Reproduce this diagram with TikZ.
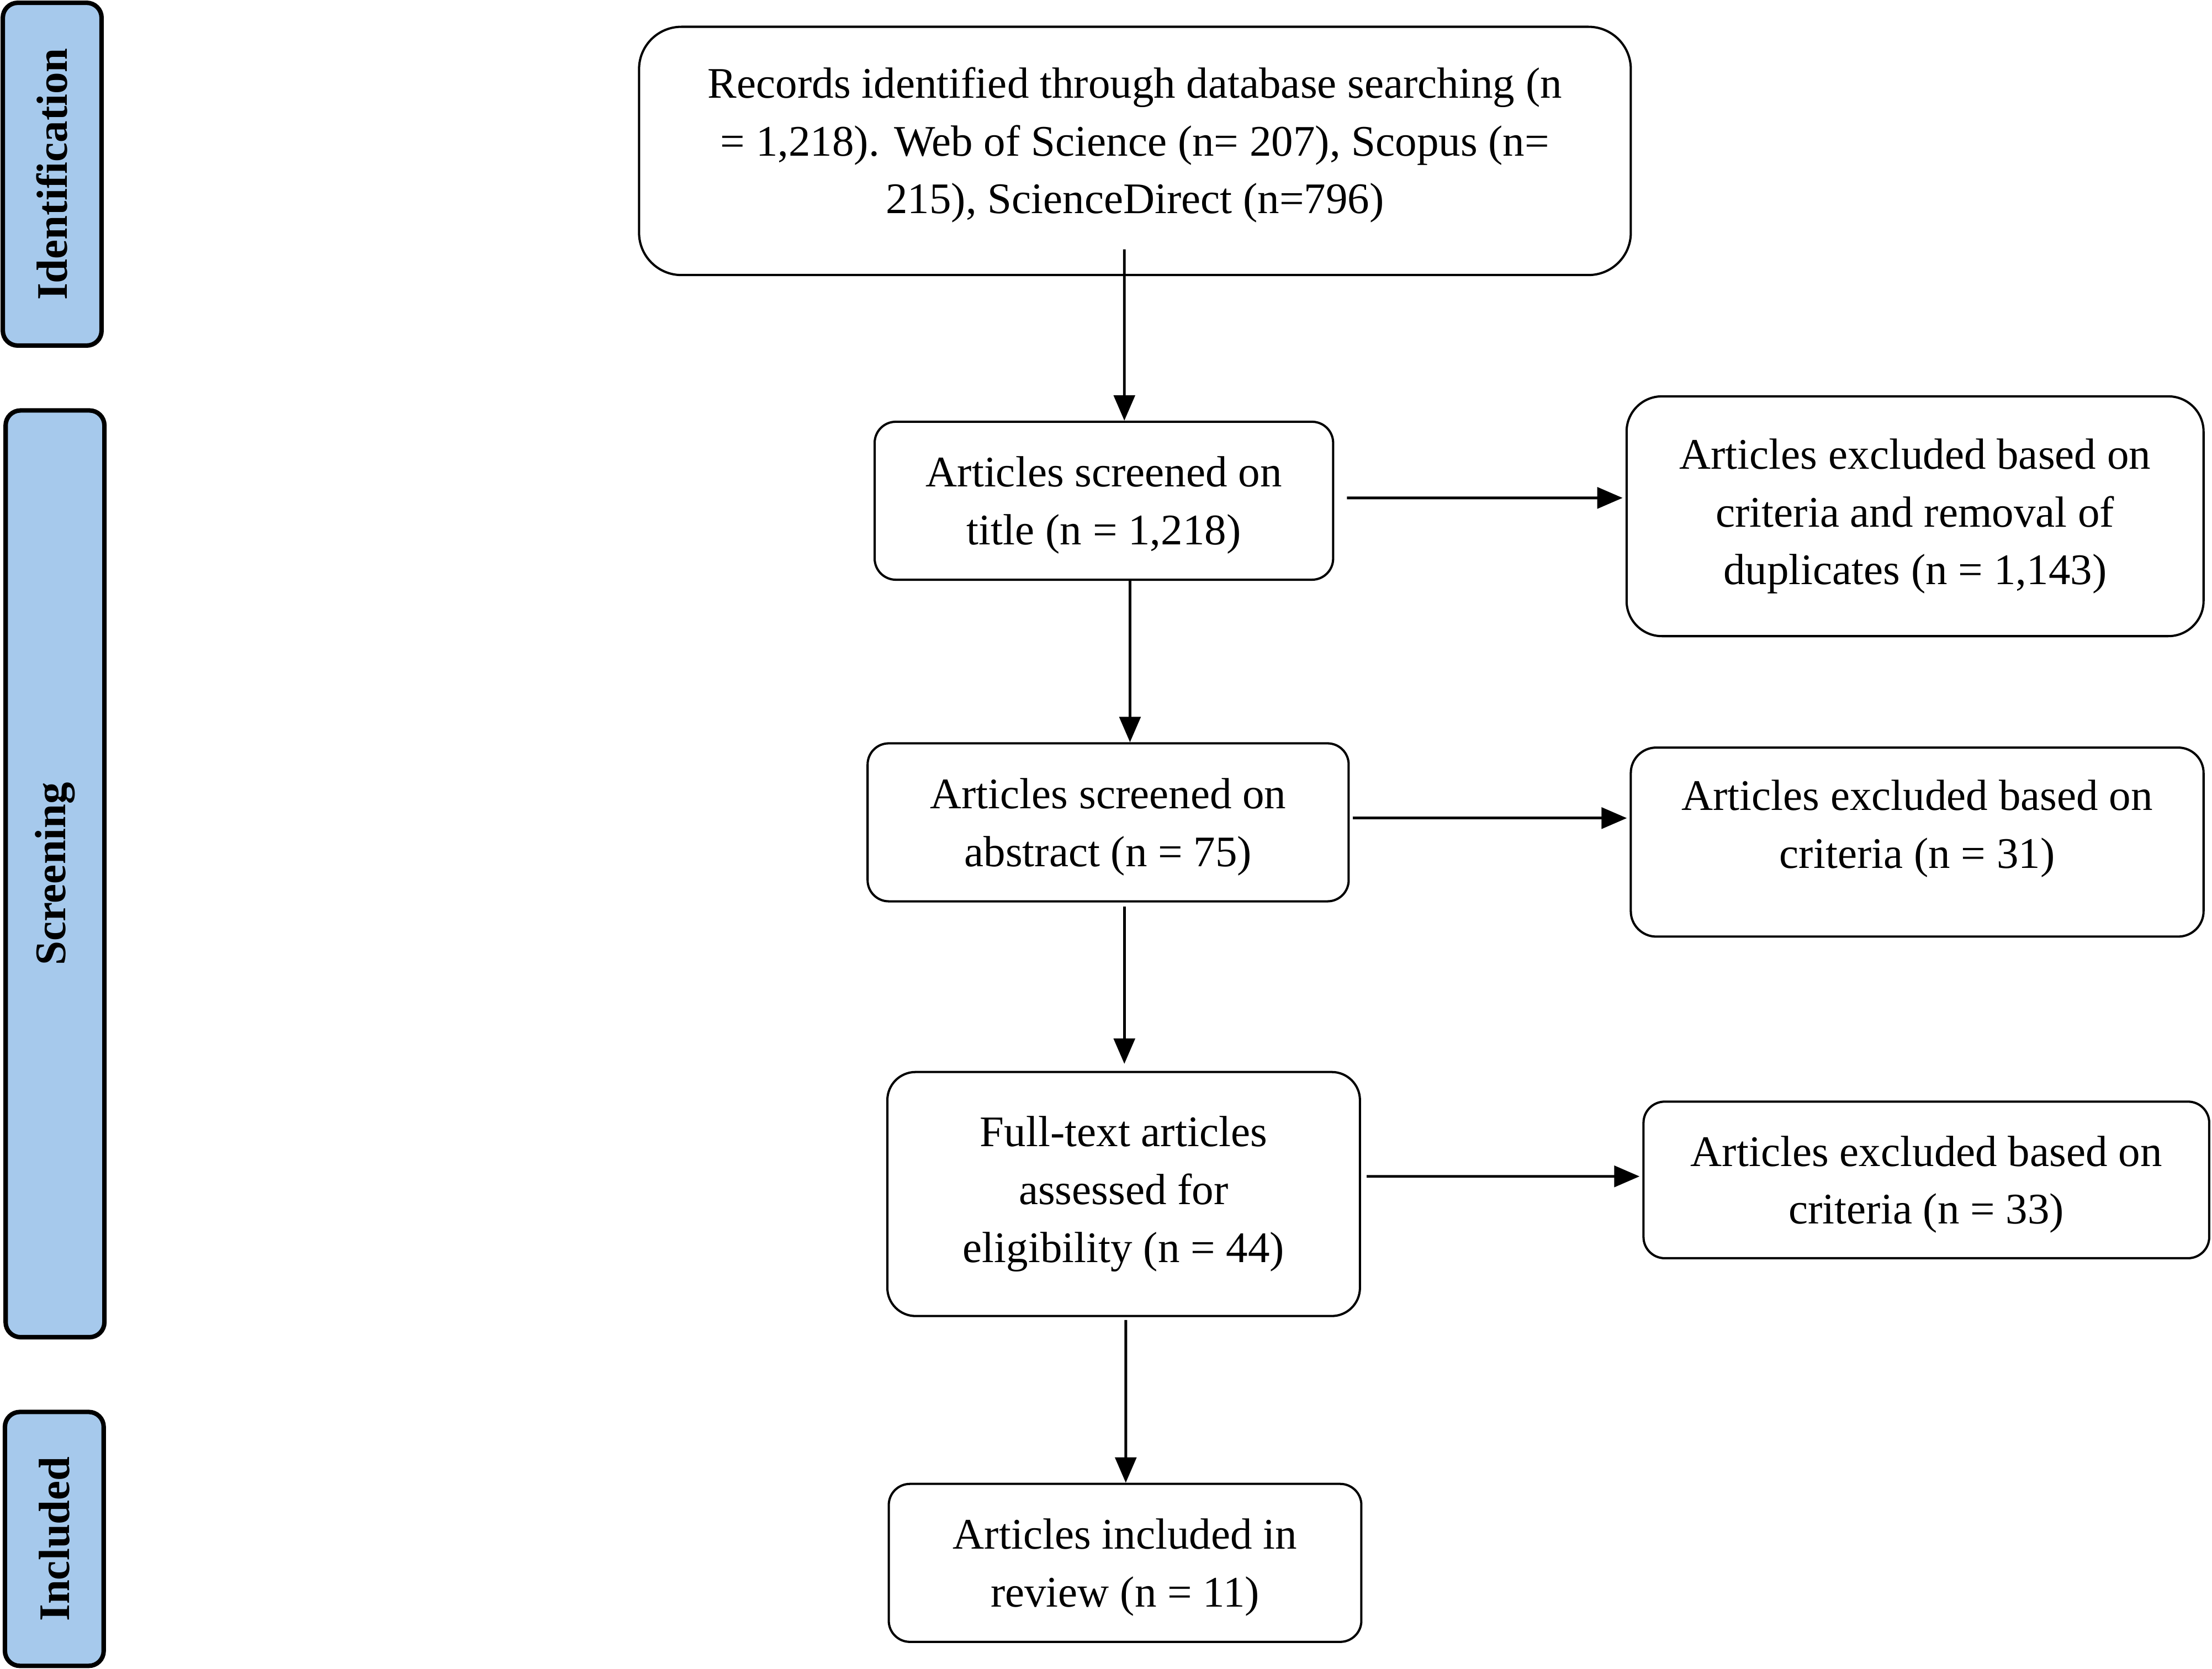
\documentclass[tikz,border=0pt]{standalone}
\usepackage{fontspec}
\setmainfont{Liberation Serif}
\usepackage{tikz}
\usetikzlibrary{arrows.meta,positioning,calc}
\definecolor{PhaseBlue}{RGB}{166,201,236}

\begin{document}
\begin{tikzpicture}[
      sNode/.style={draw=black,fill=PhaseBlue,rounded corners=3pt,rotate=90,
                    minimum height=0.70cm,inner sep=0pt,
                    font=\fontsize{8.8}{11.7}\selectfont\bfseries,line width=0.9pt},
      mNode/.style={draw=black,fill=white,rounded corners=0.15cm,inner sep=0pt,
                    minimum height=1.12cm,align=center,
                    font=\fontsize{8.8}{11.67}\selectfont,line width=0.45pt},
      lowText/.style={text depth=-0.03cm},
      ar/.style={-{Triangle[length=0.18cm,width=0.15cm]},line width=0.55pt,color=black}
    ]
    \useasboundingbox (0,0) rectangle (15.68,11.83);

    % Phase labels on the left
    \node(idn)[sNode,minimum width=2.43cm] at (0.37, 10.595) {Identification};
    \node(scr)[sNode,minimum width=6.57cm] at (0.39, 5.635) {Screening};
    \node(inl)[sNode,minimum width=1.80cm] at (0.385, 0.92) {Included};

    % Main column
    \node(rec)[mNode,minimum width=7.03cm,minimum height=1.76cm,rounded corners=0.3cm,text depth=0.15cm] at (8.045, 10.76)
      {Records identified through database searching (n\\= 1,218). Web of Science (n= 207), Scopus (n=\\215), ScienceDirect (n=796)};
    \node(ttl)[mNode,lowText,minimum width=3.25cm] at (7.825, 8.28) {Articles screened on\\title (n = 1,218)};
    \node(abs)[mNode,lowText,minimum width=3.41cm] at (7.855, 6.00) {Articles screened on\\abstract (n = 75)};
    \node(ful)[mNode,minimum width=3.35cm,minimum height=1.73cm,rounded corners=0.2cm] at (7.965, 3.365)
      {Full-text articles\\assessed for\\eligibility (n = 44)};
    \node(inc)[mNode,lowText,minimum width=3.35cm] at (7.975, 0.75) {Articles included in\\review (n = 11)};

    % Exclusions on the right
    \node(ex1)[mNode,minimum width=4.09cm,minimum height=1.70cm,rounded corners=0.25cm] at (13.575, 8.17)
      {Articles excluded based on\\criteria and removal of\\duplicates (n = 1,143)};
    \node(ex2)[mNode,minimum width=4.06cm,minimum height=1.34cm,rounded corners=0.18cm,text depth=0.257cm] at (13.59, 5.86)
      {Articles excluded based on\\criteria (n = 31)};
    \node(ex3)[mNode,lowText,minimum width=4.01cm,minimum height=1.11cm] at (13.655, 3.465)
      {Articles excluded based on\\criteria (n = 33)};

    % Downward arrows
    \draw[ar] ([xshift=-0.075cm,yshift=0.19cm]rec.south) -- ([xshift=0.145cm]ttl.north);
    \draw[ar] ([xshift=0.185cm]ttl.south) -- ([xshift=0.155cm]abs.north);
    \draw[ar] ([xshift=0.115cm,yshift=-0.03cm]abs.south) -- ([xshift=0.005cm,yshift=0.05cm]ful.north);
    \draw[ar] ([xshift=0.015cm,yshift=-0.02cm]ful.south) -- ([xshift=0.005cm]inc.north);

    % Exclusion arrows
    \draw[ar] ([xshift=0.09cm,yshift=0.02cm]ttl.east) -- ([xshift=-0.02cm,yshift=0.13cm]ex1.west);
    \draw[ar] ([xshift=0.02cm,yshift=0.03cm]abs.east) -- ([xshift=-0.02cm,yshift=0.17cm]ex2.west);
    \draw[ar] ([xshift=0.04cm,yshift=0.125cm]ful.east) -- ([xshift=-0.02cm,yshift=0.025cm]ex3.west);
  \end{tikzpicture}
\end{document}
